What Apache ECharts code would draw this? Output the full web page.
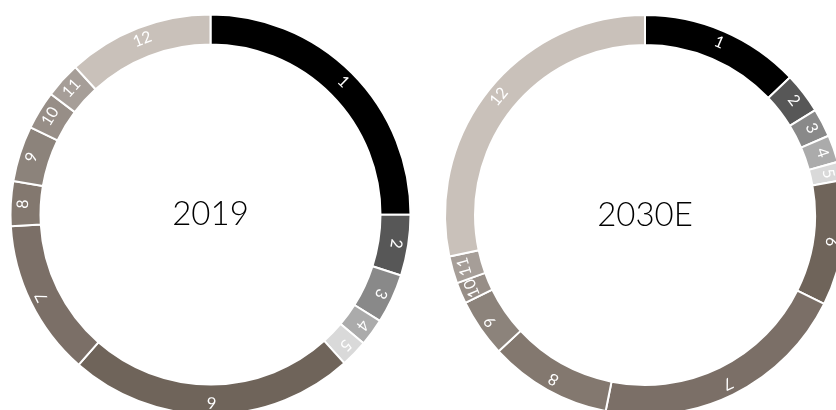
<!DOCTYPE html>
<html>
<head>
<meta charset="utf-8">
<script src="https://cdn.jsdelivr.net/npm/echarts@6/dist/echarts.min.js"></script>
<style>
html,body{margin:0;padding:0;background:#fff;}
#chart{width:836px;height:410px;}
</style>
</head>
<body>
<div id="chart"></div>
<script>
const categories = ['1','2','3','4','5','6','7','8','9','10','11','12'];
const values2019 = [25.0, 4.9, 4.0, 2.2, 2.2, 23.1, 12.6, 3.6, 4.5, 3.1, 2.9, 11.8];
const values2030 = [12.9, 3.3, 2.3, 2.2, 1.5, 10.1, 20.8, 9.9, 4.7, 1.7, 2.2, 28.3];
const centerLabels = ['2019', '2030E'];
const colors = ['#000000','#575757','#898989','#ababab','#d9d9d9','#6f645a','#7b6f67','#83786f','#8c837b','#978e87','#a69e98','#c9c1ba'];

function buildData(vals){
  const total = vals.reduce((a,b)=>a+b,0);
  let acc = 0;
  return vals.map((v,i)=>{
    const mid = (acc + v/2) / total * 360;
    acc += v;
    return {
      name: categories[i],
      value: v,
      itemStyle: {color: colors[i]},
      label: {rotate: -mid}
    };
  });
}

const centers = [[210.5, 214.5], [645, 215]];
const chart = echarts.init(document.getElementById('chart'), null, {renderer:'canvas'});
const seriesVals = [values2019, values2030];
chart.setOption({
  animation: false,
  series: seriesVals.map((vals, k) => ({
    type: 'pie',
    center: centers[k],
    radius: [170, 200],
    startAngle: 90,
    clockwise: true,
    avoidLabelOverlap: false,
    silent: true,
    itemStyle: {borderColor: '#ffffff', borderWidth: 2},
    label: {
      show: true,
      position: 'inside',
      formatter: '{b}',
      color: '#ffffff',
      fontFamily: 'Lato',
      fontSize: 16
    },
    labelLine: {show: false},
    emphasis: {disabled: true},
    data: buildData(vals)
  })),
  graphic: centerLabels.map((t, k) => ({
    type: 'text',
    x: centers[k][0],
    y: centers[k][1],
    style: {
      text: t,
      align: 'center',
      verticalAlign: 'middle',
      font: '300 33px Lato',
      fill: '#000000'
    }
  }))
});
</script>
</body>
</html>
